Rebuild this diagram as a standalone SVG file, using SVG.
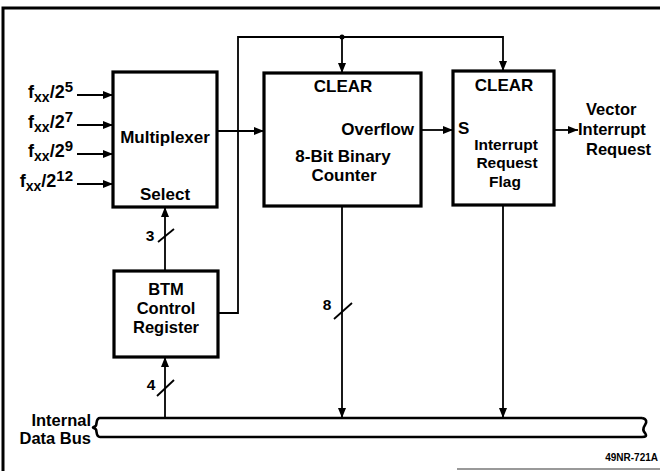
<svg xmlns="http://www.w3.org/2000/svg" width="660" height="471" viewBox="0 0 660 471">
<defs>
<marker id="ah" viewBox="0 0 10 8" refX="10" refY="4" markerWidth="10" markerHeight="8" markerUnits="userSpaceOnUse" orient="auto">
<path d="M0,0 L10,4 L0,8 z" fill="#000"/>
</marker>
</defs>
<style>
.box{fill:#fff;stroke:#000;stroke-width:3.2}
.ln{fill:none;stroke:#000;stroke-width:1.8}
.bus{fill:none;stroke:#000;stroke-width:2.6}
text{font-family:"Liberation Sans",Arial,sans-serif;font-weight:bold;fill:#000}
.t{font-size:17px}
.c{text-anchor:middle}
.e{text-anchor:end}
.s{font-size:15.5px}
.m{font-size:16.5px}
</style>
<rect width="660" height="471" fill="#fff"/>
<g id="frame">
<path d="M3,471 L3,8 L660,8" fill="none" stroke="#000" stroke-width="3"/>
<line x1="457" y1="469" x2="660" y2="469" stroke="#777" stroke-width="1.5"/>
<text x="658" y="461" class="e" font-size="10">49NR-721A</text>
</g>
<g id="connectors">
<line class="ln" x1="77" y1="95" x2="113" y2="95" marker-end="url(#ah)"/>
<line class="ln" x1="77" y1="125" x2="113" y2="125" marker-end="url(#ah)"/>
<line class="ln" x1="77" y1="154" x2="113" y2="154" marker-end="url(#ah)"/>
<line class="ln" x1="77" y1="184" x2="113" y2="184" marker-end="url(#ah)"/>
<line class="ln" x1="217" y1="131" x2="264" y2="131" marker-end="url(#ah)"/>
<polyline class="ln" points="218,313 238,313 238,37 503,37 503,71" marker-end="url(#ah)"/>
<line class="ln" x1="342" y1="37" x2="342" y2="73" marker-end="url(#ah)"/>
<circle cx="342" cy="37" r="2.5" fill="#000"/>
<line class="ln" x1="421" y1="130" x2="453" y2="130" marker-end="url(#ah)"/>
<line class="ln" x1="554" y1="130" x2="578" y2="130" marker-end="url(#ah)"/>
<line class="ln" x1="165" y1="271" x2="165" y2="207" marker-end="url(#ah)"/>
<line class="ln" x1="158" y1="242" x2="174" y2="229"/>
<text x="150" y="241" class="s c">3</text>
<line class="ln" x1="165" y1="418" x2="165" y2="357" marker-end="url(#ah)"/>
<line class="ln" x1="157" y1="396" x2="174" y2="380"/>
<text x="151" y="390" class="s c">4</text>
<line class="ln" x1="342" y1="206" x2="342" y2="418" marker-end="url(#ah)"/>
<line class="ln" x1="334" y1="319" x2="352" y2="303"/>
<text x="327" y="310" class="s c">8</text>
<line class="ln" x1="503" y1="205" x2="503" y2="418" marker-end="url(#ah)"/>
</g>
<g id="inputs">
<text x="73" y="98" class="e" font-size="18">f<tspan font-size="14" dy="4">xx</tspan><tspan dy="-4">/2</tspan><tspan font-size="15" dy="-6">5</tspan></text>
<text x="73" y="128" class="e" font-size="18">f<tspan font-size="14" dy="4">xx</tspan><tspan dy="-4">/2</tspan><tspan font-size="15" dy="-6">7</tspan></text>
<text x="73" y="157" class="e" font-size="18">f<tspan font-size="14" dy="4">xx</tspan><tspan dy="-4">/2</tspan><tspan font-size="15" dy="-6">9</tspan></text>
<text x="73" y="187" class="e" font-size="18">f<tspan font-size="14" dy="4">xx</tspan><tspan dy="-4">/2</tspan><tspan font-size="15" dy="-6">12</tspan></text>
</g>
<g id="multiplexer">
<rect class="box" x="113" y="72" width="104" height="135"/>
<text x="165" y="143" class="t c">Multiplexer</text>
<text x="165" y="200" class="t c">Select</text>
</g>
<g id="counter">
<rect class="box" x="264" y="73" width="157" height="133"/>
<text x="343" y="92" class="t c">CLEAR</text>
<text x="414" y="135" class="t e">Overflow</text>
<text x="343" y="162" class="t c">8-Bit Binary</text>
<text x="344" y="181" class="t c">Counter</text>
</g>
<g id="flag">
<rect class="box" x="453" y="71" width="101" height="134"/>
<text x="504" y="91" class="t c">CLEAR</text>
<text x="458" y="134" class="t">S</text>
<text x="506" y="150" class="s c">Interrupt</text>
<text x="507" y="168" class="s c">Request</text>
<text x="505" y="187" class="s c">Flag</text>
</g>
<g id="vector-out">
<text x="586" y="115" class="m">Vector</text>
<text x="578" y="135" class="m">Interrupt</text>
<text x="586" y="155" class="m">Request</text>
</g>
<g id="btm">
<rect class="box" x="114" y="271" width="104" height="86"/>
<text x="166" y="295" class="m c">BTM</text>
<text x="166" y="314" class="m c">Control</text>
<text x="166" y="333" class="m c">Register</text>
</g>
<g id="bus">
<path class="bus" d="M642,418 L100,418 C96,418 97,423 96,425.5 C95,427 93,427 93,427.5 C93,428 95,428 96,429.5 C97,432 96,437 100,437 L642,437"/>
<path class="bus" d="M642,418 C647,419 647,422 645,425 C643,428 643,431 645,433 C647,436 646,437 642,437"/>
<text x="91" y="426" class="m e">Internal</text>
<text x="91" y="444" class="m e">Data Bus</text>
</g>
</svg>
